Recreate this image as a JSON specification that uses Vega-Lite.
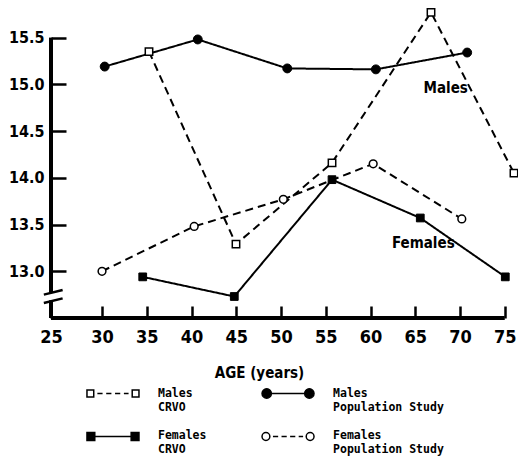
{
  "$schema": "https://vega.github.io/schema/vega-lite/v6.json",
  "padding": {"left": 8, "top": 3, "right": 0, "bottom": 0},
  "background": "white",
  "spacing": 0,
  "config": {"view": {"stroke": null}, "font": "DejaVu Sans Condensed, Liberation Sans, sans-serif"},
  "datasets": {
    "pts": [
      {"series": "Males CRVO", "age": 35.25, "value": 15.35},
      {"series": "Males CRVO", "age": 44.97, "value": 13.29},
      {"series": "Males CRVO", "age": 55.7, "value": 14.16},
      {"series": "Males CRVO", "age": 66.76, "value": 15.77},
      {"series": "Males CRVO", "age": 76.03, "value": 14.05},
      {"series": "Males Population Study", "age": 30.3, "value": 15.19},
      {"series": "Males Population Study", "age": 40.7, "value": 15.48},
      {"series": "Males Population Study", "age": 50.7, "value": 15.17},
      {"series": "Males Population Study", "age": 60.6, "value": 15.16},
      {"series": "Males Population Study", "age": 70.8, "value": 15.34},
      {"series": "Females CRVO", "age": 34.55, "value": 12.94},
      {"series": "Females CRVO", "age": 44.78, "value": 12.73},
      {"series": "Females CRVO", "age": 55.7, "value": 13.98},
      {"series": "Females CRVO", "age": 65.56, "value": 13.57},
      {"series": "Females CRVO", "age": 75.06, "value": 12.94},
      {"series": "Females Population Study", "age": 30.0, "value": 13.0},
      {"series": "Females Population Study", "age": 40.3, "value": 13.48},
      {"series": "Females Population Study", "age": 50.26, "value": 13.77},
      {"series": "Females Population Study", "age": 60.3, "value": 14.15},
      {"series": "Females Population Study", "age": 70.2, "value": 13.56}
    ],
    "notes": [
      {"label": "Males", "age": 68.4, "value": 14.96},
      {"label": "Females", "age": 65.9, "value": 13.3}
    ],
    "key": [
      {"series": "Males CRVO", "sex": "Males", "study": "CRVO"},
      {"series": "Males Population Study", "sex": "Males", "study": "Population Study"},
      {"series": "Females CRVO", "sex": "Females", "study": "CRVO"},
      {"series": "Females Population Study", "sex": "Females", "study": "Population Study"}
    ]
  },
  "vconcat": [
    {
      "width": 467,
      "height": 315,
      "layer": [
        {
          "data": {"values": [{}]},
          "mark": {"type": "rule", "strokeWidth": 4, "color": "black"},
          "encoding": {
            "x": {"datum": 24.3, "type": "quantitative"},
            "x2": {"datum": 75},
            "y": {"datum": 12.5, "type": "quantitative"}
          }
        },
        {
          "data": {"values": [{}]},
          "mark": {"type": "rule", "strokeWidth": 4, "color": "black"},
          "encoding": {
            "x": {"datum": 24.3, "type": "quantitative"},
            "y": {"datum": 12.5, "type": "quantitative"},
            "y2": {"datum": 12.69}
          }
        },
        {
          "data": {"values": [{}]},
          "mark": {"type": "rule", "strokeWidth": 4, "color": "black"},
          "encoding": {
            "x": {"datum": 24.3, "type": "quantitative"},
            "y": {"datum": 12.77, "type": "quantitative"},
            "y2": {"datum": 15.5}
          }
        },
        {
          "data": {"values": [{}]},
          "mark": {"type": "rule", "strokeWidth": 2.5, "color": "black"},
          "encoding": {
            "x": {"datum": 23.5, "type": "quantitative"},
            "x2": {"datum": 25.6},
            "y": {"datum": 12.75, "type": "quantitative"},
            "y2": {"datum": 12.8}
          }
        },
        {
          "data": {"values": [{}]},
          "mark": {"type": "rule", "strokeWidth": 2.5, "color": "black"},
          "encoding": {
            "x": {"datum": 23.5, "type": "quantitative"},
            "x2": {"datum": 25.6},
            "y": {"datum": 12.66, "type": "quantitative"},
            "y2": {"datum": 12.71}
          }
        },
        {
          "data": {"name": "pts"},
          "mark": {"type": "line", "strokeWidth": 2, "color": "black"},
          "encoding": {
            "x": {
              "field": "age", "type": "quantitative",
              "scale": {"domain": [24.3, 76.48], "nice": false, "zero": false},
              "axis": {
                "values": [24.3, 30, 35, 40, 45, 50, 55, 60, 65, 70, 75],
                "labelExpr": "datum.value < 25 ? '25' : datum.label",
                "title": "AGE (years)",
                "domain": false, "grid": false, "offset": -12,
                "tickSize": 12, "tickWidth": 2.5, "tickColor": "black",
                "labelPadding": 10, "labelFlush": false, "labelOverlap": false,
                "labelFontSize": 18, "labelFontWeight": "bold", "labelColor": "black",
                "titleFontSize": 15, "titleFontWeight": "bold", "titleColor": "black",
                "titleX": 208, "titleY": 66, "titleBaseline": "middle", "titleAnchor": "middle"
              }
            },
            "y": {
              "field": "value", "type": "quantitative",
              "scale": {"domain": [12.5, 15.87], "nice": false, "zero": false},
              "axis": {
                "values": [13, 13.5, 14, 14.5, 15, 15.5],
                "format": ".1f",
                "title": null,
                "domain": false, "grid": false, "offset": -15,
                "tickSize": 15, "tickWidth": 2.5, "tickColor": "black",
                "labelPadding": 7, "labelFlush": false, "labelOverlap": false,
                "labelFontSize": 16, "labelFontWeight": "bold", "labelColor": "black"
              }
            },
            "detail": {"field": "series", "type": "nominal"},
            "strokeDash": {
              "field": "series", "type": "nominal",
              "scale": {
                "domain": ["Males CRVO", "Males Population Study", "Females CRVO", "Females Population Study"],
                "range": [[8, 5], [1, 0], [1, 0], [8, 5]]
              },
              "legend": null
            }
          }
        },
        {
          "data": {"name": "pts"},
          "transform": [{"filter": "datum.series === 'Males CRVO'"}],
          "mark": {"type": "point", "shape": "square", "filled": true, "fill": "white", "stroke": "black", "strokeWidth": 1.5, "size": 55, "opacity": 1},
          "encoding": {"x": {"field": "age", "type": "quantitative"}, "y": {"field": "value", "type": "quantitative"}}
        },
        {
          "data": {"name": "pts"},
          "transform": [{"filter": "datum.series === 'Males Population Study'"}],
          "mark": {"type": "point", "shape": "circle", "filled": true, "fill": "black", "stroke": "black", "strokeWidth": 1, "size": 80, "opacity": 1},
          "encoding": {"x": {"field": "age", "type": "quantitative"}, "y": {"field": "value", "type": "quantitative"}}
        },
        {
          "data": {"name": "pts"},
          "transform": [{"filter": "datum.series === 'Females CRVO'"}],
          "mark": {"type": "point", "shape": "square", "filled": true, "fill": "black", "stroke": "black", "strokeWidth": 1, "size": 60, "opacity": 1},
          "encoding": {"x": {"field": "age", "type": "quantitative"}, "y": {"field": "value", "type": "quantitative"}}
        },
        {
          "data": {"name": "pts"},
          "transform": [{"filter": "datum.series === 'Females Population Study'"}],
          "mark": {"type": "point", "shape": "circle", "filled": true, "fill": "white", "stroke": "black", "strokeWidth": 1.5, "size": 60, "opacity": 1},
          "encoding": {"x": {"field": "age", "type": "quantitative"}, "y": {"field": "value", "type": "quantitative"}}
        },
        {
          "data": {"name": "notes"},
          "mark": {"type": "text", "fontSize": 15, "fontWeight": "bold", "color": "black"},
          "encoding": {
            "x": {"field": "age", "type": "quantitative"},
            "y": {"field": "value", "type": "quantitative"},
            "text": {"field": "label", "type": "nominal"}
          }
        }
      ]
    },
    {
      "width": 299,
      "height": 70,
      "data": {"name": "key"},
      "encoding": {
        "x": {"field": "study", "type": "nominal", "scale": {"type": "point", "padding": 0.354, "domain": ["CRVO", "Population Study"]}, "axis": null},
        "y": {"field": "sex", "type": "nominal", "scale": {"type": "point", "padding": 0.314, "domain": ["Males", "Females"]}, "axis": null}
      },
      "layer": [
        {
          "mark": {"type": "point", "filled": true, "stroke": "black", "strokeWidth": 1.5, "size": 2704, "opacity": 1},
          "encoding": {
            "shape": {
              "field": "series", "type": "nominal", "legend": null,
              "scale": {
                "domain": ["Males CRVO", "Males Population Study", "Females CRVO", "Females Population Study"],
                "range": [
                  "M-1,-0.13h0.26v0.26h-0.26ZM0.74,-0.13h0.26v0.26h-0.26ZM-0.6,0H-0.4M-0.26,0H-0.06M0.08,0H0.28M0.42,0H0.6",
                  "M-1,0a0.18,0.18 0 1,0 0.36,0a0.18,0.18 0 1,0 -0.36,0ZM0.64,0a0.18,0.18 0 1,0 0.36,0a0.18,0.18 0 1,0 -0.36,0ZM-0.64,0H0.64",
                  "M-1,-0.15h0.3v0.3h-0.3ZM0.7,-0.15h0.3v0.3h-0.3ZM-0.7,0H0.7",
                  "M-1,0a0.15,0.15 0 1,0 0.3,0a0.15,0.15 0 1,0 -0.3,0ZM0.7,0a0.15,0.15 0 1,0 0.3,0a0.15,0.15 0 1,0 -0.3,0ZM-0.58,0H-0.38M-0.25,0H-0.05M0.08,0H0.28M0.41,0H0.58"
                ]
              }
            },
            "fill": {
              "field": "series", "type": "nominal", "legend": null,
              "scale": {
                "domain": ["Males CRVO", "Males Population Study", "Females CRVO", "Females Population Study"],
                "range": ["white", "black", "black", "white"]
              }
            }
          }
        },
        {
          "mark": {"type": "text", "align": "left", "baseline": "middle", "dx": 45, "dy": 0, "font": "DejaVu Sans Mono", "fontSize": 11.5, "fontWeight": "bold", "color": "black"},
          "encoding": {"text": {"field": "sex", "type": "nominal"}}
        },
        {
          "mark": {"type": "text", "align": "left", "baseline": "middle", "dx": 45, "dy": 14, "font": "DejaVu Sans Mono", "fontSize": 11.5, "fontWeight": "bold", "color": "black"},
          "encoding": {"text": {"field": "study", "type": "nominal"}}
        }
      ]
    }
  ],
  "resolve": {"scale": {"x": "independent", "y": "independent", "shape": "independent", "fill": "independent", "strokeDash": "independent"}}
}
